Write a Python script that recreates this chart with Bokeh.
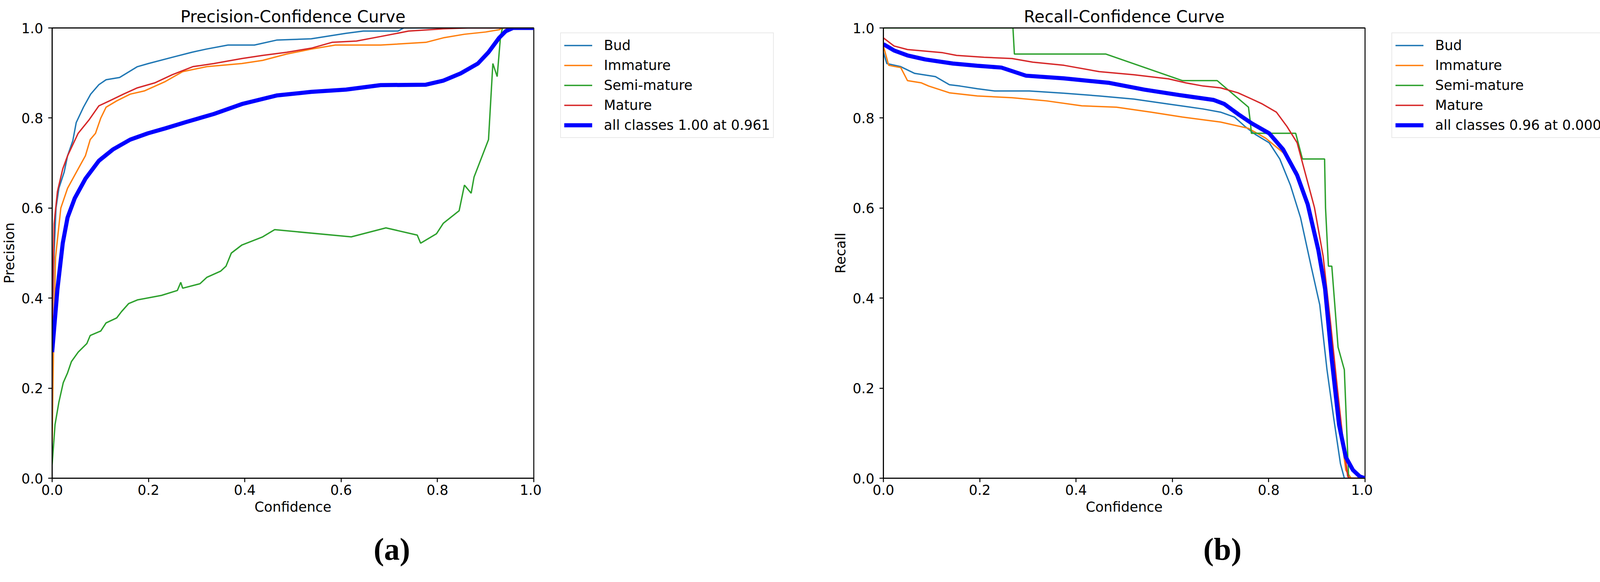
from bokeh.plotting import figure
from bokeh.models import (Legend, LegendItem, Title, FixedTicker, PrintfTickFormatter, Range1d,
                          LinearAxis)
from bokeh.layouts import row
from bokeh.embed import file_html
from bokeh.resources import INLINE

CLASSES = ["Bud", "Immature", "Semi-mature", "Mature"]
COLORS = ["#1f77b4", "#ff7f0e", "#2ca02c", "#d62728"]
ALL_COLOR = "#0000ff"
TICKS = [0.0, 0.2, 0.4, 0.6, 0.8, 1.0]

# ---------------- Precision-Confidence ----------------
pc_bud_x = [0.0, 0.004, 0.008, 0.014, 0.025, 0.032, 0.043, 0.05, 0.065, 0.08, 0.097, 0.112, 0.14,
            0.177, 0.2, 0.25, 0.29, 0.32, 0.365, 0.42, 0.466, 0.538, 0.61, 0.646, 0.718, 0.73, 1.0]
pc_bud_y = [0.33, 0.5, 0.6, 0.644, 0.68, 0.716, 0.75, 0.79, 0.824, 0.853, 0.874, 0.885, 0.89,
            0.914, 0.921, 0.935, 0.946, 0.953, 0.962, 0.962, 0.973, 0.976, 0.988, 0.993, 0.993, 1.0, 1.0]

pc_imm_x = [0.0, 0.003, 0.007, 0.018, 0.032, 0.054, 0.069, 0.079, 0.09, 0.101, 0.112, 0.134, 0.162,
            0.191, 0.235, 0.271, 0.321, 0.394, 0.437, 0.487, 0.538, 0.588, 0.682, 0.776, 0.812,
            0.856, 0.9, 0.928, 0.935, 1.0]
pc_imm_y = [0.08, 0.3, 0.49, 0.6, 0.644, 0.687, 0.716, 0.752, 0.766, 0.8, 0.824, 0.838, 0.853,
            0.86, 0.881, 0.903, 0.914, 0.921, 0.928, 0.942, 0.953, 0.962, 0.962, 0.968, 0.978,
            0.986, 0.991, 0.996, 1.0, 1.0]

pc_semi_x = [0.0, 0.006, 0.014, 0.023, 0.032, 0.04, 0.054, 0.072, 0.079, 0.101, 0.112, 0.134, 0.144,
             0.159, 0.177, 0.227, 0.26, 0.267, 0.271, 0.307, 0.321, 0.35, 0.361, 0.372, 0.394,
             0.437, 0.462, 0.621, 0.693, 0.758, 0.765, 0.798, 0.812, 0.845, 0.856, 0.87, 0.876,
             0.906, 0.915, 0.924, 0.931, 0.935, 1.0]
pc_semi_y = [0.03, 0.119, 0.169, 0.212, 0.234, 0.259, 0.28, 0.299, 0.317, 0.327, 0.345, 0.356, 0.37,
             0.388, 0.396, 0.406, 0.417, 0.435, 0.422, 0.432, 0.446, 0.46, 0.471, 0.5, 0.518,
             0.536, 0.552, 0.536, 0.556, 0.54, 0.522, 0.543, 0.566, 0.594, 0.651, 0.633, 0.669,
             0.752, 0.921, 0.892, 0.982, 1.0, 1.0]

pc_mat_x = [0.0, 0.004, 0.011, 0.022, 0.032, 0.054, 0.076, 0.097, 0.119, 0.148, 0.177, 0.213, 0.249,
            0.292, 0.336, 0.394, 0.437, 0.487, 0.538, 0.581, 0.632, 0.682, 0.74, 0.812, 0.863, 1.0]
pc_mat_y = [0.32, 0.565, 0.637, 0.687, 0.716, 0.766, 0.795, 0.827, 0.838, 0.853, 0.867, 0.878, 0.896,
            0.914, 0.921, 0.932, 0.939, 0.946, 0.955, 0.968, 0.971, 0.981, 0.993, 0.998, 1.0, 1.0]

pc_all_x = [0.0, 0.011, 0.022, 0.032, 0.047, 0.069, 0.097, 0.126, 0.162, 0.199, 0.235, 0.278, 0.336,
            0.394, 0.466, 0.538, 0.61, 0.682, 0.776, 0.812, 0.848, 0.884, 0.906, 0.928, 0.942, 0.957, 1.0]
pc_all_y = [0.28, 0.42, 0.522, 0.579, 0.622, 0.665, 0.705, 0.73, 0.752, 0.766, 0.777, 0.791, 0.809,
            0.831, 0.85, 0.858, 0.863, 0.873, 0.874, 0.883, 0.899, 0.921, 0.946, 0.978, 0.993, 1.0, 1.0]

# ---------------- Recall-Confidence ----------------
rc_bud_x = [0.0, 0.007, 0.036, 0.065, 0.108, 0.137, 0.159, 0.195, 0.231, 0.303, 0.375, 0.448, 0.52,
            0.592, 0.664, 0.7, 0.729, 0.751, 0.773, 0.801, 0.823, 0.845, 0.866, 0.888, 0.906, 0.921,
            0.935, 0.949, 0.957, 1.0]
rc_bud_y = [0.946, 0.921, 0.914, 0.899, 0.892, 0.874, 0.871, 0.865, 0.86, 0.86, 0.855, 0.849, 0.842,
            0.831, 0.82, 0.813, 0.802, 0.781, 0.763, 0.745, 0.709, 0.651, 0.579, 0.471, 0.385, 0.241,
            0.133, 0.032, 0.0, 0.0]

rc_imm_x = [0.0, 0.011, 0.036, 0.05, 0.079, 0.094, 0.137, 0.195, 0.267, 0.339, 0.412, 0.484, 0.556,
            0.621, 0.7, 0.758, 0.794, 0.83, 0.859, 0.881, 0.903, 0.917, 0.931, 0.946, 0.96, 0.971, 1.0]
rc_imm_y = [0.96, 0.917, 0.912, 0.883, 0.878, 0.871, 0.856, 0.849, 0.845, 0.838, 0.827, 0.824, 0.813,
            0.802, 0.791, 0.777, 0.755, 0.723, 0.68, 0.608, 0.507, 0.421, 0.277, 0.133, 0.018, 0.0, 0.0]

rc_semi_x = [0.0, 0.269, 0.272, 0.462, 0.621, 0.693, 0.758, 0.762, 0.764, 0.856, 0.87, 0.916, 0.918,
             0.924, 0.931, 0.944, 0.957, 0.966, 1.0]
rc_semi_y = [1.0, 1.0, 0.942, 0.942, 0.883, 0.883, 0.824, 0.79, 0.766, 0.766, 0.709, 0.709, 0.6,
             0.471, 0.471, 0.291, 0.241, 0.0, 0.0]

rc_mat_x = [0.0, 0.022, 0.05, 0.123, 0.152, 0.209, 0.267, 0.31, 0.375, 0.448, 0.52, 0.592, 0.628,
            0.664, 0.7, 0.736, 0.765, 0.787, 0.816, 0.838, 0.859, 0.877, 0.895, 0.913, 0.928, 0.942,
            0.953, 0.964, 0.968, 1.0]
rc_mat_y = [0.978, 0.96, 0.952, 0.945, 0.939, 0.935, 0.932, 0.924, 0.917, 0.903, 0.896, 0.887, 0.878,
            0.871, 0.867, 0.856, 0.842, 0.831, 0.813, 0.781, 0.745, 0.673, 0.601, 0.493, 0.349, 0.205,
            0.097, 0.004, 0.0, 0.0]

rc_all_x = [0.0, 0.022, 0.05, 0.087, 0.144, 0.195, 0.245, 0.296, 0.375, 0.469, 0.542, 0.614, 0.686,
            0.708, 0.736, 0.765, 0.801, 0.83, 0.859, 0.881, 0.903, 0.917, 0.931, 0.946, 0.96, 0.975,
            0.989, 1.0]
rc_all_y = [0.964, 0.95, 0.939, 0.93, 0.921, 0.916, 0.912, 0.894, 0.888, 0.878, 0.863, 0.851, 0.84,
            0.831, 0.809, 0.788, 0.766, 0.73, 0.673, 0.608, 0.507, 0.421, 0.263, 0.119, 0.047, 0.018,
            0.004, 0.0]

PC_LEGEND = CLASSES + ["all classes 1.00 at 0.961"]
RC_LEGEND = CLASSES + ["all classes 0.96 at 0.000"]

FONT = "DejaVu Sans"
LEFT_B = 130
RIGHT_B = 20
TOP_B = 71
BOT_B = 250
TOTAL_H = 1473
FRAME_H = TOTAL_H - TOP_B - BOT_B    # 1152
PLOT_W = 1386                        # frame width 1236
LEG1_W = 2128 - PLOT_W               # 742
LEG2_W = 4119 - 2128 - PLOT_W        # 605
THIN = 3.5
THICK = 10.5


def make_fig(title, ylabel, series, all_series, caption, cap_offset):
    p = figure(width=PLOT_W, height=TOTAL_H, output_backend="svg", toolbar_location=None,
               x_range=Range1d(0, 1), y_range=Range1d(0, 1),
               min_border_left=LEFT_B, min_border_right=RIGHT_B,
               min_border_top=TOP_B, min_border_bottom=BOT_B)
    p.background_fill_color = "white"
    p.border_fill_color = "white"
    p.grid.visible = False
    p.outline_line_color = "black"
    p.outline_line_width = 2.5

    p.title.text = title
    p.title.text_font = FONT
    p.title.text_font_size = "42px"
    p.title.text_font_style = "normal"
    p.title.text_color = "black"
    p.title.align = "center"

    for ax in (p.xaxis[0], p.yaxis[0]):
        ax.ticker = FixedTicker(ticks=TICKS)
        ax.formatter = PrintfTickFormatter(format="%.1f")
        ax.axis_line_color = "black"
        ax.axis_line_width = 2.5
        ax.major_tick_line_color = "black"
        ax.major_tick_line_width = 2.5
        ax.major_tick_out = 10
        ax.major_tick_in = 0
        ax.minor_tick_line_color = None
        ax.major_label_text_font = FONT
        ax.major_label_text_font_size = "35px"
        ax.major_label_text_color = "black"
        ax.axis_label_text_font = FONT
        ax.axis_label_text_font_size = "35px"
        ax.axis_label_text_font_style = "normal"
        ax.axis_label_text_color = "black"
    p.xaxis.axis_label = "Confidence"
    p.yaxis.axis_label = ylabel
    p.xaxis.major_label_standoff = 6
    p.yaxis.major_label_standoff = 13
    p.xaxis.axis_label_standoff = 8
    p.yaxis.axis_label_standoff = 8

    # top spine drawn above the curves (like matplotlib spines)
    top = LinearAxis(ticker=FixedTicker(ticks=[]), axis_line_color="black", axis_line_width=2.5,
                     major_tick_line_color=None, minor_tick_line_color=None,
                     major_label_text_font_size="0px", major_label_standoff=0, axis_label=None)
    p.add_layout(top, "above")

    for color, (xs, ys) in zip(COLORS, series):
        p.line(xs, ys, line_color=color, line_width=THIN)
    p.line(all_series[0], all_series[1], line_color=ALL_COLOR, line_width=THICK)

    # blank gap below the x axis, then the sub-figure caption
    gap = Title(text=" ", text_font=FONT, text_font_size="10px", standoff=28, text_color="white")
    p.add_layout(gap, "below")
    cap = Title(text=caption, text_font="Liberation Serif", text_font_style="bold",
                text_font_size="80px", text_color="black", align="left", offset=cap_offset,
                vertical_align="top", standoff=0)
    p.add_layout(cap, "below")
    return p


def make_legend_panel(labels, width):
    # strip to the right of a plot that holds that plot's legend
    q = figure(width=width, height=TOTAL_H, output_backend="svg", toolbar_location=None,
               x_axis_type=None, y_axis_type=None, x_range=Range1d(0, 1), y_range=Range1d(0, 1),
               min_border_left=0, min_border_right=0, min_border_top=TOP_B, min_border_bottom=BOT_B)
    q.outline_line_color = None
    q.grid.visible = False
    q.background_fill_color = "white"
    q.border_fill_color = "white"
    items = []
    for i, lab in enumerate(labels):
        color = COLORS[i] if i < len(COLORS) else ALL_COLOR
        lw = THIN if i < len(COLORS) else THICK
        # legend key only: its points lie outside the visible range
        r = q.line([-5, -4], [-5, -5], line_color=color, line_width=lw)
        items.append(LegendItem(label=lab, renderers=[r]))
    n = len(labels)
    pad, gh, sp = 8, 46, 5
    leg_h = 2 * pad + n * gh + (n - 1) * sp
    leg = Legend(items=items, location=(48, FRAME_H - 16 - leg_h), margin=0)
    leg.label_text_font = FONT
    leg.label_text_font_size = "35px"
    leg.label_text_color = "black"
    leg.glyph_width = 72
    leg.glyph_height = gh
    leg.label_height = gh
    leg.label_standoff = 30
    leg.padding = pad
    leg.spacing = sp
    leg.border_line_color = "#d4d4d4"
    leg.border_line_width = 2.5
    leg.background_fill_color = "white"
    leg.background_fill_alpha = 0.8
    q.add_layout(leg)
    return q


p1 = make_fig("Precision-Confidence Curve", "Precision",
              [(pc_bud_x, pc_bud_y), (pc_imm_x, pc_imm_y), (pc_semi_x, pc_semi_y), (pc_mat_x, pc_mat_y)],
              (pc_all_x, pc_all_y), "(a)", 823)
l1 = make_legend_panel(PC_LEGEND, LEG1_W)
p2 = make_fig("Recall-Confidence Curve", "Recall",
              [(rc_bud_x, rc_bud_y), (rc_imm_x, rc_imm_y), (rc_semi_x, rc_semi_y), (rc_mat_x, rc_mat_y)],
              (rc_all_x, rc_all_y), "(b)", 819)
l2 = make_legend_panel(RC_LEGEND, LEG2_W)

layout = row(p1, l1, p2, l2)
open("out.html", "w").write(file_html(layout, INLINE))
